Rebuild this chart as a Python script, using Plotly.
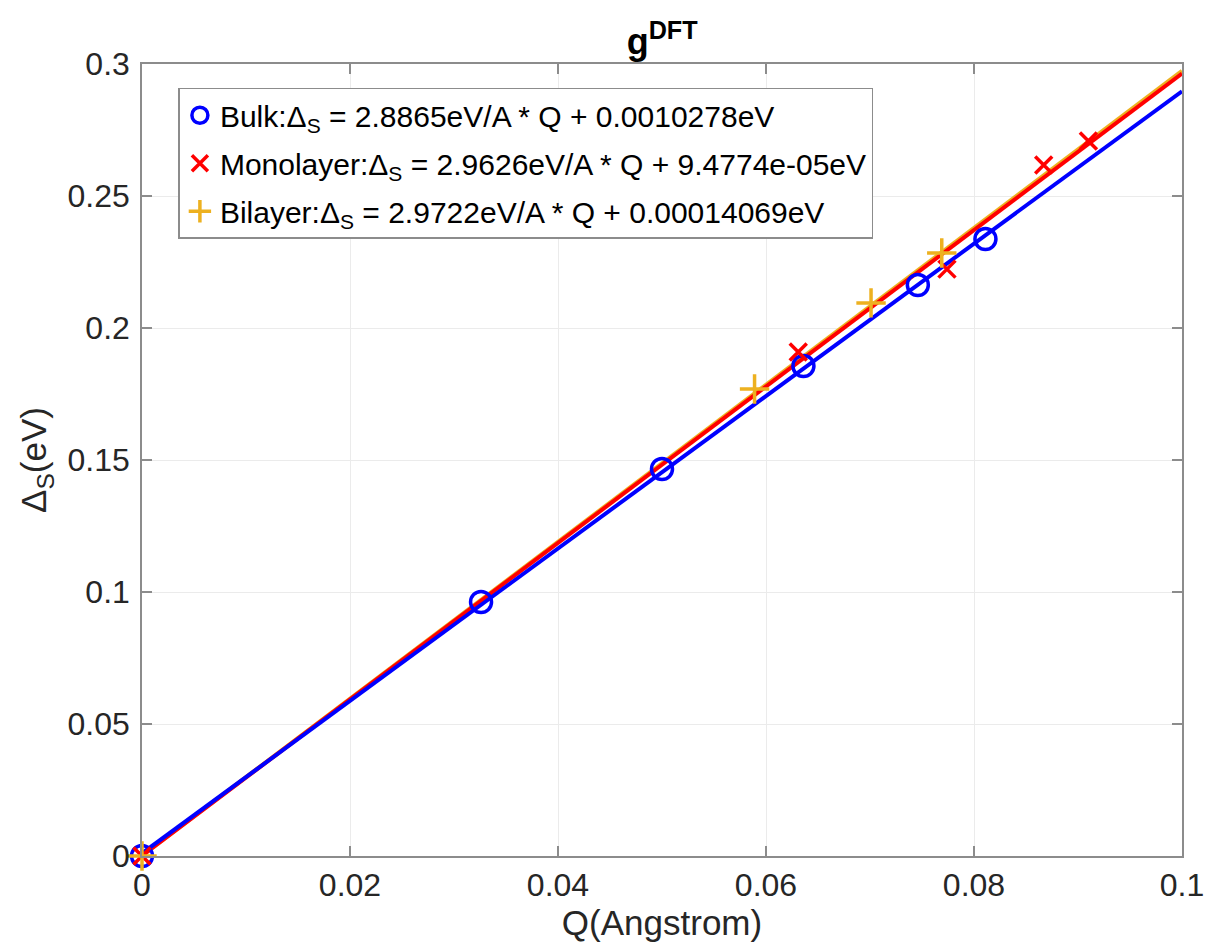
import numpy as np
import plotly.graph_objects as go

# Measured gap data (Q in Angstrom, Delta_S in eV)
bulk_q = [0.0, 0.0326, 0.0500, 0.0636, 0.0746, 0.0811]
bulk_d = [0.0, 0.0962, 0.1466, 0.1856, 0.2163, 0.2337]

mono_q = [0.0, 0.0631, 0.0774, 0.0867, 0.0910]
mono_d = [0.0, 0.1909, 0.2223, 0.2617, 0.2708]

bi_q = [0.0, 0.0589, 0.0701, 0.0769]
bi_d = [0.0, 0.1769, 0.2095, 0.2284]

# Linear fit coefficients (slope eV/A, intercept eV)
bulk_fit = (2.8865, 0.0010278)
mono_fit = (2.9626, 9.4774e-05)
bi_fit = (2.9722, 0.00014069)

x_ticks = [0, 0.02, 0.04, 0.06, 0.08, 0.1]
x_ticklabels = ["0", "0.02", "0.04", "0.06", "0.08", "0.1"]
y_ticks = [0, 0.05, 0.1, 0.15, 0.2, 0.25, 0.3]
y_ticklabels = ["0", "0.05", "0.1", "0.15", "0.2", "0.25", "0.3"]

BLUE = "#0000ff"
RED = "#ff0000"
GOLD = "#edb120"
FONT = "Liberation Sans"

q_line = np.array([0.0, 0.1])

fig = go.Figure()

# fitted lines
for (a, b), col in [(bi_fit, GOLD), (mono_fit, RED), (bulk_fit, BLUE)]:
    fig.add_trace(go.Scatter(x=q_line, y=a * q_line + b, mode="lines",
                             line=dict(color=col, width=4),
                             showlegend=False, hoverinfo="skip"))

# data points (one legend group each so the rows get extra spacing)
fig.add_trace(go.Scatter(
    x=bulk_q, y=bulk_d, mode="markers", legendgroup="bulk", cliponaxis=False,
    marker=dict(symbol="circle-open", size=21, color=BLUE, line=dict(width=3.5, color=BLUE)),
    name=f"Bulk:Δ<sub>S</sub> = {bulk_fit[0]}eV/A * Q + {bulk_fit[1]}eV"))
fig.add_trace(go.Scatter(
    x=mono_q, y=mono_d, mode="markers", legendgroup="mono", cliponaxis=False,
    marker=dict(symbol="x-thin-open", size=17, color=RED, line=dict(width=3.5, color=RED)),
    name=f"Monolayer:Δ<sub>S</sub> = {mono_fit[0]}eV/A * Q + 9.4774e-05eV"))
fig.add_trace(go.Scatter(
    x=bi_q, y=bi_d, mode="markers", legendgroup="bi", cliponaxis=False,
    marker=dict(symbol="cross-thin-open", size=21, color=GOLD, line=dict(width=3.5, color=GOLD)),
    name=f"Bilayer:Δ<sub>S</sub> = {bi_fit[0]}eV/A * Q + {bi_fit[1]}eV"))

axis_common = dict(
    showgrid=True, gridcolor="#ebebeb", gridwidth=1,
    showline=True, linecolor="#8c8c8c", linewidth=1.5, mirror="ticks",
    ticks="inside", ticklen=10, tickwidth=1.5, tickcolor="#8c8c8c",
    tickfont=dict(family=FONT, size=32, color="#262626"),
    zeroline=False, automargin=False,
)

fig.update_layout(
    width=1205, height=948,
    margin=dict(l=142, r=23, t=64, b=92),
    paper_bgcolor="white", plot_bgcolor="white",
    title=dict(text="<b>g<sup>DFT</sup></b>", x=0.5495, xanchor="center",
               y=0.956, yanchor="middle",
               font=dict(family=FONT, size=36, color="black")),
    xaxis=dict(range=[0, 0.1], tickvals=x_ticks, ticktext=x_ticklabels,
               title=dict(text="Q(Angstrom)", standoff=0,
                          font=dict(family=FONT, size=35, color="#262626")),
               **axis_common),
    yaxis=dict(range=[0, 0.3], tickvals=y_ticks, ticktext=y_ticklabels,
               ticklabelstandoff=4,
               title=dict(text="Δ<sub>S</sub>(eV)", standoff=10,
                          font=dict(family=FONT, size=35, color="#262626")),
               **axis_common),
    legend=dict(x=0.035, y=0.97, xanchor="left", yanchor="top",
                bgcolor="white", bordercolor="#8c8c8c", borderwidth=1.5,
                font=dict(family=FONT, size=30, color="black"),
                itemwidth=30, tracegroupgap=6, traceorder="grouped"),
    showlegend=True,
)

fig.write_html("out.html")
